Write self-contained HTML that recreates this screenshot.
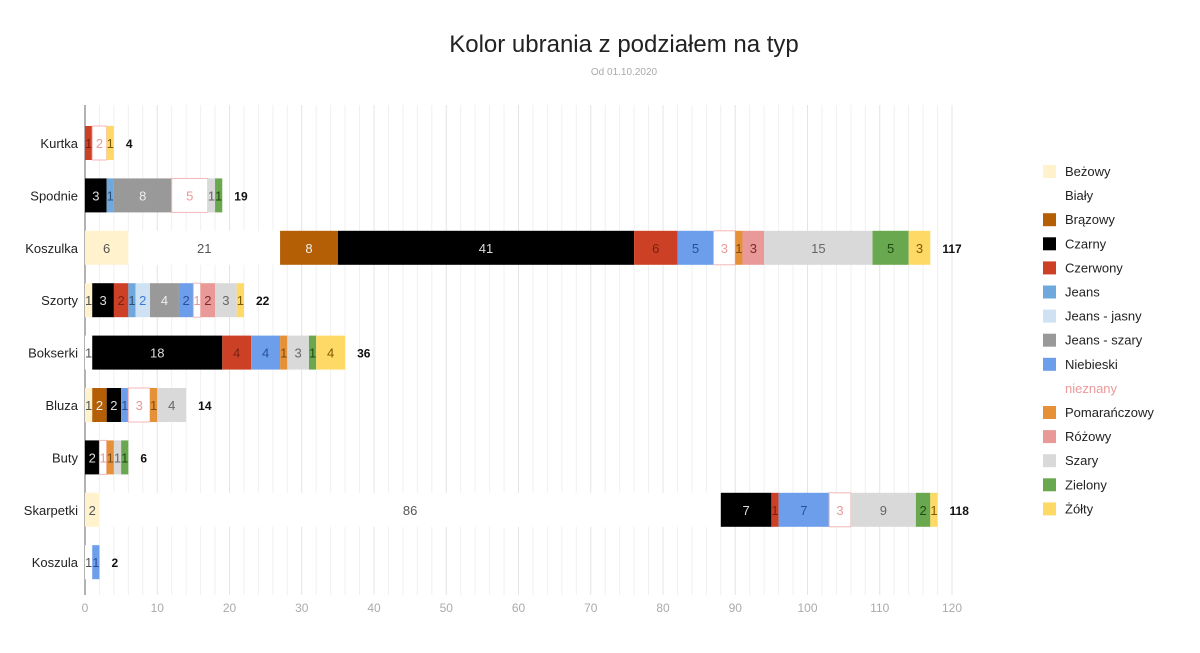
<!DOCTYPE html>
<html><head><meta charset="utf-8"><style>
body{margin:0;background:#fff;font-family:"Liberation Sans",sans-serif}
</style></head><body>
<svg id="c" width="1200" height="648" xmlns="http://www.w3.org/2000/svg">
<text x="624" y="52" text-anchor="middle" font-size="24" fill="#222">Kolor ubrania z podziałem na typ</text>
<text x="624" y="75" text-anchor="middle" font-size="10" fill="#aaa">Od 01.10.2020</text>
<g id="grid"></g><g id="bars"></g><g id="legend"></g>
</svg>
<script>
const categories=["Kurtka","Spodnie","Koszulka","Szorty","Bokserki","Bluza","Buty","Skarpetki","Koszula"];
const series=["Beżowy","Biały","Brązowy","Czarny","Czerwony","Jeans","Jeans - jasny","Jeans - szary","Niebieski","nieznany","Pomarańczowy","Różowy","Szary","Zielony","Żółty"];
const values=[
[0,0,0,0,1,0,0,0,0,2,0,0,0,0,1],
[0,0,0,3,0,1,0,8,0,5,0,0,1,1,0],
[6,21,8,41,6,0,0,0,5,3,1,3,15,5,3],
[1,0,0,3,2,1,2,4,2,1,0,2,3,0,1],
[0,1,0,18,4,0,0,0,4,0,1,0,3,1,4],
[1,0,2,2,0,0,0,0,1,3,1,0,4,0,0],
[0,0,0,2,0,0,0,0,0,1,1,0,1,1,0],
[2,86,0,7,1,0,0,0,7,3,0,0,9,2,1],
[0,1,0,0,0,0,0,0,1,0,0,0,0,0,0]];
const xTicks=[0,10,20,30,40,50,60,70,80,90,100,110,120];
const fills=["#fff2cc","#ffffff","#b45f06","#000000","#cc4125","#6fa8dc","#cfe2f3","#999999","#6d9eeb","#ffffff","#e69138","#ea9999","#d9d9d9","#6aa84f","#ffd966"];
const txt=["#555","#555","#eee","#ddd","#7a2010","#2a4f7a","#3c78d8","#eee","#2a4f9a","#ea9999","#7a4a10","#7a2a2a","#666","#1f4a10","#7a5a00"];
const NS="http://www.w3.org/2000/svg";
const x0=85,x1=952,yTop=105,yBot=595,rowH=52.4,y0=143,bh=34;
const X=v=>x0+v*(x1-x0)/120;
const Y=i=>y0+i*rowH;
function mk(t,a,p){const e=document.createElementNS(NS,t);for(const k in a)e.setAttribute(k,a[k]);p.appendChild(e);return e;}
const g=document.getElementById('grid');
for(let v=0;v<=120;v+=2){const l=mk('line',{x1:X(v),x2:X(v),y1:yTop,y2:yBot,stroke:v%10?'#f0f0f0':'#e4e4e4'},g);

}
mk('line',{x1:x0,x2:x0,y1:yTop,y2:yBot,stroke:'#999','stroke-width':1.5},g);
xTicks.forEach(v=>{const t=mk('text',{x:X(v),y:612,'text-anchor':'middle','font-size':12,fill:'#aaa'},g);t.textContent=v;

});
const b=document.getElementById('bars');
categories.forEach((c,i)=>{const y=Y(i);
const t=mk('text',{x:78,y:y+5,'text-anchor':'end','font-size':13,fill:'#222'},b);t.textContent=c;


let acc=0;
values[i].forEach((v,s)=>{if(!v)return;
const r=mk('rect',{x:X(acc),y:y-bh/2,width:X(acc+v)-X(acc),height:bh,fill:fills[s],stroke:s==9?'#f4b6b6':'none'},b);


const l=mk('text',{x:(X(acc)+X(acc+v))/2,y:y+5,'text-anchor':'middle','font-size':13,fill:txt[s]},b);l.textContent=v;


acc+=v;});
const tt=mk('text',{x:X(acc)+12,y:y+5,'font-size':12,'font-weight':'bold',fill:'#111'},b);tt.textContent=acc;

});
const L=document.getElementById('legend');
series.forEach((s,i)=>{const y=172+i*24.1;
if(i!=1&&i!=9){const r=mk('rect',{x:1043,y:y-7,width:13,height:13,fill:fills[i]},L);

}
const t=mk('text',{x:1065,y:y+4,'font-size':13,fill:i==9?'#ea9999':'#222'},L);t.textContent=s;

});
</script>
</body></html>
